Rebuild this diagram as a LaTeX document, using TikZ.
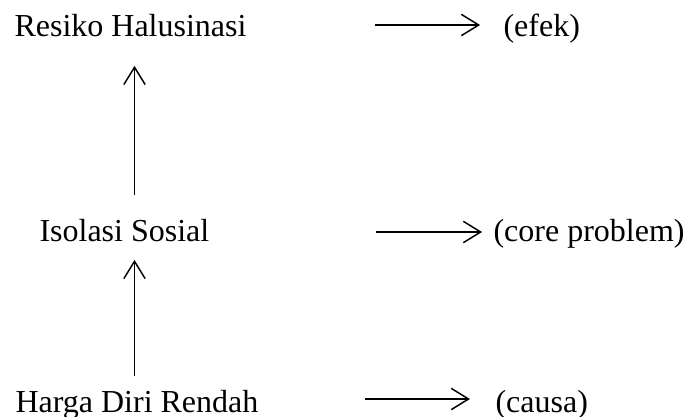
\documentclass[tikz,border=0pt]{standalone}
\usepackage{fontspec}
\setmainfont{Liberation Serif}
\usetikzlibrary{arrows.meta}
\tikzset{lbl/.style={anchor=base west, inner sep=0pt, font=\fontsize{12}{14}\selectfont},
  arr/.style={-{Straight Barb[length=6.5pt,width=8pt]}, line width=.55pt}}
\begin{document}
\begin{tikzpicture}[x=.375pt,y=-.375pt]
\useasboundingbox (0,0) rectangle (689,417);
\node [lbl] (resiko) at (14,37) {Resiko Halusinasi};
\node [lbl] (efek) at (503,37) {(efek)};
\node [lbl] (isolasi) at (39,242) {Isolasi Sosial};
\node [lbl] (core) at (493,242) {(core problem)};
\node [lbl] (harga) at (15,412) {Harga Diri Rendah};
\node [lbl] (causa) at (495,412) {(causa)};

\coordinate (vx) at (134.5,0);
\draw [arr, shorten <=4.9pt, shorten >=6.4pt] (harga.north -| vx) -- (isolasi.south -| vx);
\draw [arr, shorten <=9pt, shorten >=10.5pt] (isolasi.north -| vx) -- (resiko.south -| vx);

\coordinate (h1) at (375,25);
\coordinate (h2) at (376,232);
\coordinate (h3) at (365,399);
\draw [arr, shorten >=8.6pt] (h1) -- (h1 -| efek.west);
\draw [arr, shorten >=4.1pt] (h2) -- (h2 -| core.west);
\draw [arr, shorten >=9.4pt] (h3) -- (h3 -| causa.west);
\end{tikzpicture}
\end{document}
